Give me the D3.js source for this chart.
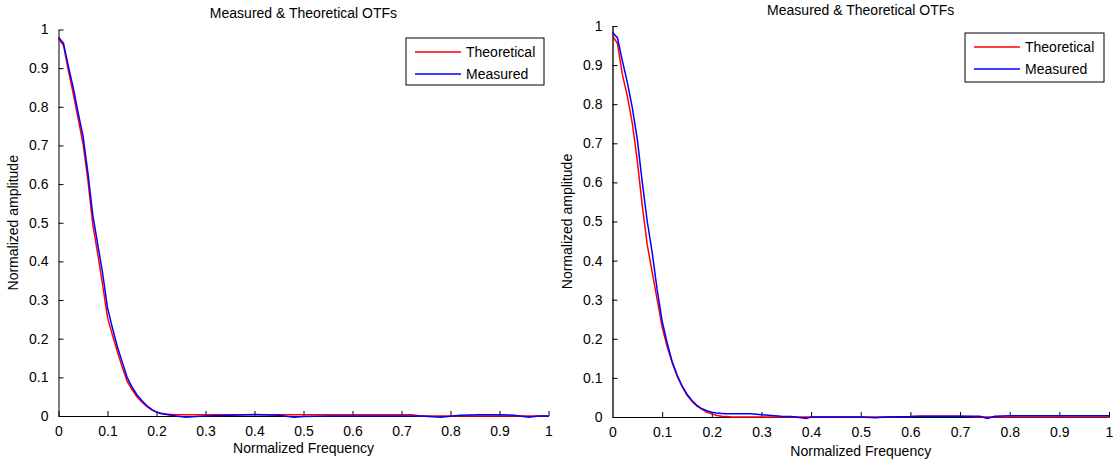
<!DOCTYPE html>
<html>
<head>
<meta charset="utf-8">
<script src="https://cdn.jsdelivr.net/npm/d3@7"></script>
<style>
  body { margin: 0; background: #fff; }
  svg { display: block; }
  text { font-family: "Liberation Sans", Arial, sans-serif; fill: #000; }
</style>
</head>
<body>
<div id="chart"></div>
<script>
// Data
const tickValues = [0, 0.1, 0.2, 0.3, 0.4, 0.5, 0.6, 0.7, 0.8, 0.9, 1];
const tickLabels = ['0', '0.1', '0.2', '0.3', '0.4', '0.5', '0.6', '0.7', '0.8', '0.9', '1'];
const seriesNames = ['Theoretical', 'Measured'];

// left panel
const freqLeft = [0, 0.01, 0.02, 0.03, 0.04, 0.05, 0.06, 0.07, 0.08, 0.09, 0.10, 0.11, 0.12, 0.13, 0.14,
  0.15, 0.16, 0.17, 0.18, 0.19, 0.20, 0.21, 0.22, 0.23, 0.24, 0.26, 0.28, 0.30, 0.35, 0.40, 0.45, 0.48,
  0.50, 0.55, 0.60, 0.65, 0.70, 0.72, 0.74, 0.78, 0.82, 0.86, 0.90, 0.93, 0.96, 0.98, 1.00];
const theoLeft = [0.975, 0.96, 0.895, 0.835, 0.77, 0.705, 0.61, 0.495, 0.42, 0.34, 0.255, 0.21, 0.167,
  0.127, 0.09, 0.068, 0.05, 0.036, 0.025, 0.016, 0.010, 0.007, 0.005, 0.004, 0.003, 0.003, 0.003, 0.003,
  0.003, 0.003, 0.003, 0.003, 0.003, 0.003, 0.003, 0.003, 0.003, 0.003, 0.0, 0.0, 0.0, 0.0, 0.0, 0.0,
  0.0, 0.0, 0.0];
const measLeft = [0.98, 0.965, 0.905, 0.85, 0.785, 0.725, 0.63, 0.52, 0.445, 0.37, 0.28, 0.228, 0.18,
  0.14, 0.10, 0.075, 0.055, 0.04, 0.027, 0.017, 0.010, 0.006, 0.004, 0.002, 0.0, -0.003, -0.001, 0.0,
  0.002, 0.004, 0.002, -0.003, -0.001, 0.0, 0.0, 0.0, 0.0, 0.0, 0.0, -0.003, 0.002, 0.003, 0.003,
  0.002, -0.003, 0.0, 0.0];

// right panel
const freqRight = [0, 0.01, 0.02, 0.03, 0.04, 0.05, 0.06, 0.07, 0.08, 0.09, 0.10, 0.11, 0.12, 0.13, 0.14,
  0.15, 0.16, 0.17, 0.18, 0.19, 0.20, 0.21, 0.22, 0.23, 0.24, 0.26, 0.28, 0.30, 0.32, 0.34, 0.36, 0.38,
  0.39, 0.40, 0.45, 0.50, 0.53, 0.55, 0.60, 0.62, 0.70, 0.74, 0.755, 0.77, 0.80, 0.90, 1.00];
const theoRight = [0.975, 0.955, 0.875, 0.82, 0.75, 0.655, 0.54, 0.44, 0.37, 0.30, 0.23, 0.18, 0.14,
  0.105, 0.078, 0.056, 0.04, 0.028, 0.02, 0.012, 0.008, 0.004, 0.002, 0.001, 0.0, 0.0, 0.0, 0.0, 0.0,
  0.0, 0.0, 0.0, 0.0, 0.0, 0.0, 0.0, 0.0, 0.0, 0.001, 0.002, 0.002, 0.0, 0.0, 0.0, 0.0, 0.0, 0.0];
const measRight = [0.983, 0.97, 0.91, 0.855, 0.79, 0.71, 0.60, 0.50, 0.42, 0.325, 0.245, 0.19, 0.142,
  0.108, 0.08, 0.058, 0.042, 0.03, 0.021, 0.016, 0.012, 0.010, 0.009, 0.008, 0.008, 0.008, 0.008, 0.006,
  0.004, 0.002, 0.001, -0.002, -0.004, 0.0, 0.0, 0.0, -0.002, 0.0, 0.001, 0.002, 0.002, 0.002, -0.004,
  0.002, 0.003, 0.003, 0.003];

const W = 1114, H = 463;
const colors = ['#ff0000', '#0000ff'];

const svg = d3.select('#chart').append('svg')
  .attr('width', W).attr('height', H);

// Layout for each panel
const panels = [
  {
    freq: freqLeft, theo: theoLeft, meas: measLeft,
    x0: 58.5, x1: 548.5, y0: 416, y1: 29.5,
    titleY: 18, xLabelY: 453, yLabelX: 18,
    yAxisColor: '#000', yAxisWidth: 1,
    legend: { x: 406, y: 38, w: 138, h: 47 }
  },
  {
    freq: freqRight, theo: theoRight, meas: measRight,
    x0: 612.5, x1: 1109, y0: 417, y1: 26,
    titleY: 15, xLabelY: 456, yLabelX: 572,
    yAxisColor: '#555', yAxisWidth: 2,
    legend: { x: 965, y: 33, w: 139, h: 49 }
  }
];

panels.forEach(p => drawPanel(p));

function drawPanel(p) {
  const x = d3.scaleLinear().domain([0, 1]).range([p.x0, p.x1]);
  const y = d3.scaleLinear().domain([0, 1]).range([p.y0, p.y1]);
  const g = svg.append('g');

  // x axis (ticks pointing inward)
  const xAxis = g.append('g')
    .attr('transform', `translate(0,${p.y0})`)
    .call(d3.axisBottom(x).tickValues(tickValues)
      .tickFormat((d, i) => tickLabels[i]).tickSizeInner(-5).tickSizeOuter(0).tickPadding(10));
  xAxis.select('.domain').attr('stroke', '#000').attr('stroke-width', 1.2);
  xAxis.selectAll('.tick line').attr('stroke', '#000');
  xAxis.selectAll('text').style('font-size', '14px').style('font-family', '"Liberation Sans", Arial, sans-serif');

  // y axis
  const yAxis = g.append('g')
    .attr('transform', `translate(${p.x0},0)`)
    .call(d3.axisLeft(y).tickValues(tickValues)
      .tickFormat((d, i) => tickLabels[i]).tickSizeInner(-5).tickSizeOuter(0).tickPadding(10));
  yAxis.select('.domain').attr('stroke', p.yAxisColor).attr('stroke-width', p.yAxisWidth);
  yAxis.selectAll('.tick line').attr('stroke', '#000');
  yAxis.selectAll('text').style('font-size', '14px').style('font-family', '"Liberation Sans", Arial, sans-serif');

  // curves
  const line = d3.line()
    .x((d, i) => x(p.freq[i]))
    .y(d => y(d));
  [p.theo, p.meas].forEach((vals, k) => {
    g.append('path')
      .datum(vals)
      .attr('d', line)
      .attr('fill', 'none')
      .attr('stroke', colors[k])
      .attr('stroke-width', 1.5);
  });

  // title & axis labels
  const cx = (p.x0 + p.x1) / 2;
  g.append('text').attr('x', cx).attr('y', p.titleY)
    .attr('text-anchor', 'middle').style('font-size', '14px')
    .text('Measured & Theoretical OTFs');
  g.append('text').attr('x', cx).attr('y', p.xLabelY)
    .attr('text-anchor', 'middle').style('font-size', '14px')
    .text('Normalized Frequency');
  g.append('text')
    .attr('transform', `translate(${p.yLabelX},${(p.y0 + p.y1) / 2}) rotate(-90)`)
    .attr('text-anchor', 'middle').style('font-size', '14px')
    .text('Normalized amplitude');

  // legend
  const L = p.legend;
  const lg = g.append('g').attr('transform', `translate(${L.x},${L.y})`);
  lg.append('rect').attr('width', L.w).attr('height', L.h)
    .attr('fill', '#fff').attr('stroke', '#000').attr('stroke-width', 1);
  seriesNames.forEach((name, k) => {
    const ly = 14 + k * 22;
    lg.append('line').attr('x1', 9).attr('x2', 55).attr('y1', ly).attr('y2', ly)
      .attr('stroke', colors[k]).attr('stroke-width', 1.5);
    lg.append('text').attr('x', 60).attr('y', ly + 5).style('font-size', '14px').text(name);
  });
}
</script>
</body>
</html>
